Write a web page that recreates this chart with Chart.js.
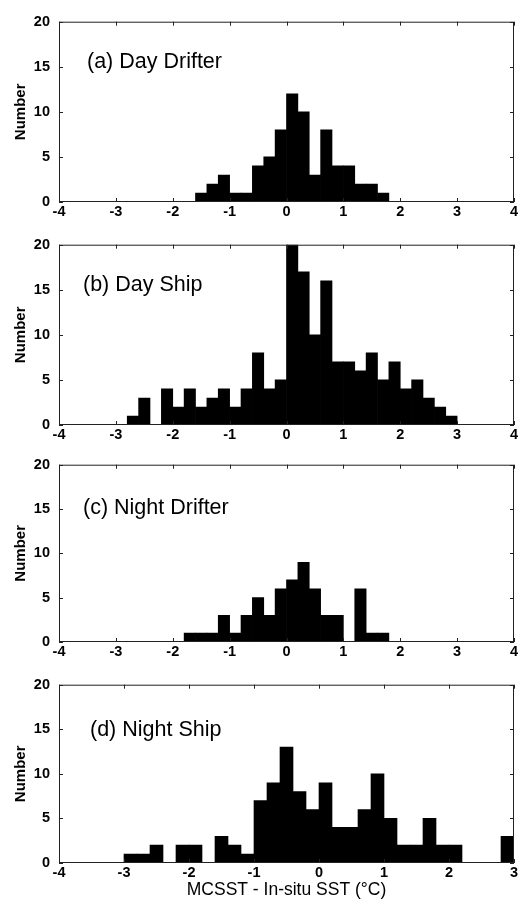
<!DOCTYPE html>
<html>
<head>
<meta charset="utf-8">
<script src="https://cdn.jsdelivr.net/npm/chart.js@4"></script>
<style>
  html, body { margin: 0; padding: 0; background: #fff; overflow: hidden; }
  #page { position: relative; width: 523px; height: 910px; }
  #page canvas { position: absolute; left: 0; }
</style>
</head>
<body>
<div id="page"></div>
<script>
// Histogram bins: 0.2 degC wide, centres from -3.9 to 3.9
const binCenters = [
  -3.9, -3.7, -3.5, -3.3, -3.1, -2.9, -2.7, -2.5, -2.3, -2.1,
  -1.9, -1.7, -1.5, -1.3, -1.1, -0.9, -0.7, -0.5, -0.3, -0.1,
   0.1,  0.3,  0.5,  0.7,  0.9,  1.1,  1.3,  1.5,  1.7,  1.9,
   2.1,  2.3,  2.5,  2.7,  2.9,  3.1,  3.3,  3.5,  3.7,  3.9
];

// Counts per bin
const dayDrifter = [
  0, 0, 0, 0, 0, 0, 0, 0, 0, 0,
  0, 0, 1, 2, 3, 1, 1, 4, 5, 8,
  12, 10, 3, 8, 4, 4, 2, 2, 1, 0,
  0, 0, 0, 0, 0, 0, 0, 0, 0, 0
];
const dayShip = [
  0, 0, 0, 0, 0, 0, 1, 3, 0, 4,
  2, 4, 2, 3, 4, 2, 4, 8, 4, 5,
  20, 17, 10, 16, 7, 7, 6, 8, 5, 7,
  4, 5, 3, 2, 1, 0, 0, 0, 0, 0
];
const nightDrifter = [
  0, 0, 0, 0, 0, 0, 0, 0, 0, 0,
  0, 1, 1, 1, 3, 1, 3, 5, 3, 6,
  7, 9, 6, 3, 3, 0, 6, 1, 1, 0,
  0, 0, 0, 0, 0, 0, 0, 0, 0, 0
];
// night ship axis stops at +3
const nightShip = [
  0, 0, 0, 0, 0, 1, 1, 2, 0, 2,
  2, 0, 3, 2, 1, 7, 9, 13, 8, 6,
  9, 4, 4, 6, 10, 5, 2, 2, 5, 2,
  2, 0, 0, 0, 3
];

const panelTitles = ['(a) Day Drifter', '(b) Day Ship', '(c) Night Drifter', '(d) Night Ship'];
const panelSeries = [dayDrifter, dayShip, nightDrifter, nightShip];
const xMax = [4, 4, 4, 3];
const yTickStep = 5;
const yMax = 20;
const xTitle = 'MCSST - In-situ SST (°C)';
const yTitle = 'Number';

// Layout (pixels)
const plotTops = [16, 239, 459, 679];
const plotHeights = [186, 186, 183, 184];
const titleOffsets = [[28, 46], [24, 46], [24, 49], [31, 51]];
const padTop = 12;
const plotLeft = 59;
const plotRight = 514;
const pageWidth = 523;

const fontFamily = '"Liberation Sans", Arial, Helvetica, sans-serif';

// Boxed axes with inward ticks on all four sides, plus the panel label
const framePlugin = {
  id: 'frame',
  afterDraw(chart, args, opts) {
    const { ctx, chartArea: a, scales } = chart;
    const tl = 4;
    ctx.save();
    ctx.strokeStyle = '#222';
    ctx.lineWidth = 1;
    ctx.strokeRect(a.left + 0.5, a.top + 0.5, a.right - a.left - 1, a.bottom - a.top - 1);
    ctx.beginPath();
    scales.x.ticks.forEach(t => {
      const px = Math.round(scales.x.getPixelForValue(t.value)) + 0.5;
      ctx.moveTo(px, a.bottom);
      ctx.lineTo(px, a.bottom - tl);
      ctx.moveTo(px, a.top);
      ctx.lineTo(px, a.top + tl);
    });
    scales.y.ticks.forEach(t => {
      const py = Math.round(scales.y.getPixelForValue(t.value)) + 0.5;
      ctx.moveTo(a.left, py);
      ctx.lineTo(a.left + tl, py);
      ctx.moveTo(a.right, py);
      ctx.lineTo(a.right - tl, py);
    });
    ctx.stroke();

    ctx.fillStyle = '#000';
    ctx.font = '21.5px ' + fontFamily;
    ctx.textAlign = 'left';
    ctx.textBaseline = 'alphabetic';
    ctx.fillText(opts.label, a.left + opts.dx, a.top + opts.dy);
    ctx.restore();
  }
};

const page = document.getElementById('page');

function makePanel(i) {
  const last = i === panelSeries.length - 1;
  const xAxisHeight = last ? 44 : 24;
  const canvas = document.createElement('canvas');
  canvas.width = pageWidth;
  canvas.height = padTop + plotHeights[i] + xAxisHeight;
  canvas.style.top = (plotTops[i] - padTop) + 'px';
  page.appendChild(canvas);

  const counts = panelSeries[i];
  const points = counts.map((y, k) => ({ x: binCenters[k], y: y }));

  return new Chart(canvas.getContext('2d'), {
    type: 'bar',
    data: {
      datasets: [{
        data: points,
        backgroundColor: '#000',
        borderWidth: 0,
        barPercentage: 1,
        categoryPercentage: 1
      }]
    },
    options: {
      responsive: false,
      animation: false,
      devicePixelRatio: 1,
      layout: { padding: { top: padTop, right: pageWidth - plotRight, bottom: 0, left: 0 } },
      scales: {
        x: {
          type: 'linear',
          offset: false,
          min: -4,
          max: xMax[i],
          grid: { display: false, drawTicks: false },
          border: { display: false },
          ticks: {
            stepSize: 1,
            padding: 1,
            color: '#000',
            maxRotation: 0,
            font: { family: fontFamily, size: 14.5, weight: 'bold' }
          },
          title: {
            display: last,
            text: xTitle,
            color: '#000',
            padding: { top: 0, bottom: 6 },
            font: { family: fontFamily, size: 17.5 }
          },
          afterFit(scale) { scale.height = xAxisHeight; }
        },
        y: {
          min: 0,
          max: yMax,
          grid: { display: false, drawTicks: false },
          border: { display: false },
          ticks: {
            stepSize: yTickStep,
            padding: 9,
            color: '#000',
            font: { family: fontFamily, size: 14.5, weight: 'bold' }
          },
          title: {
            display: true,
            text: yTitle,
            color: '#000',
            padding: { top: 12, bottom: 0 },
            font: { family: fontFamily, size: 15, weight: 'bold' }
          },
          afterFit(scale) { scale.width = plotLeft; }
        }
      },
      plugins: {
        legend: { display: false },
        tooltip: { enabled: false },
        frame: { label: panelTitles[i], dx: titleOffsets[i][0], dy: titleOffsets[i][1] }
      }
    },
    plugins: [framePlugin]
  });
}

panelSeries.forEach((s, i) => makePanel(i));
</script>
</body>
</html>
